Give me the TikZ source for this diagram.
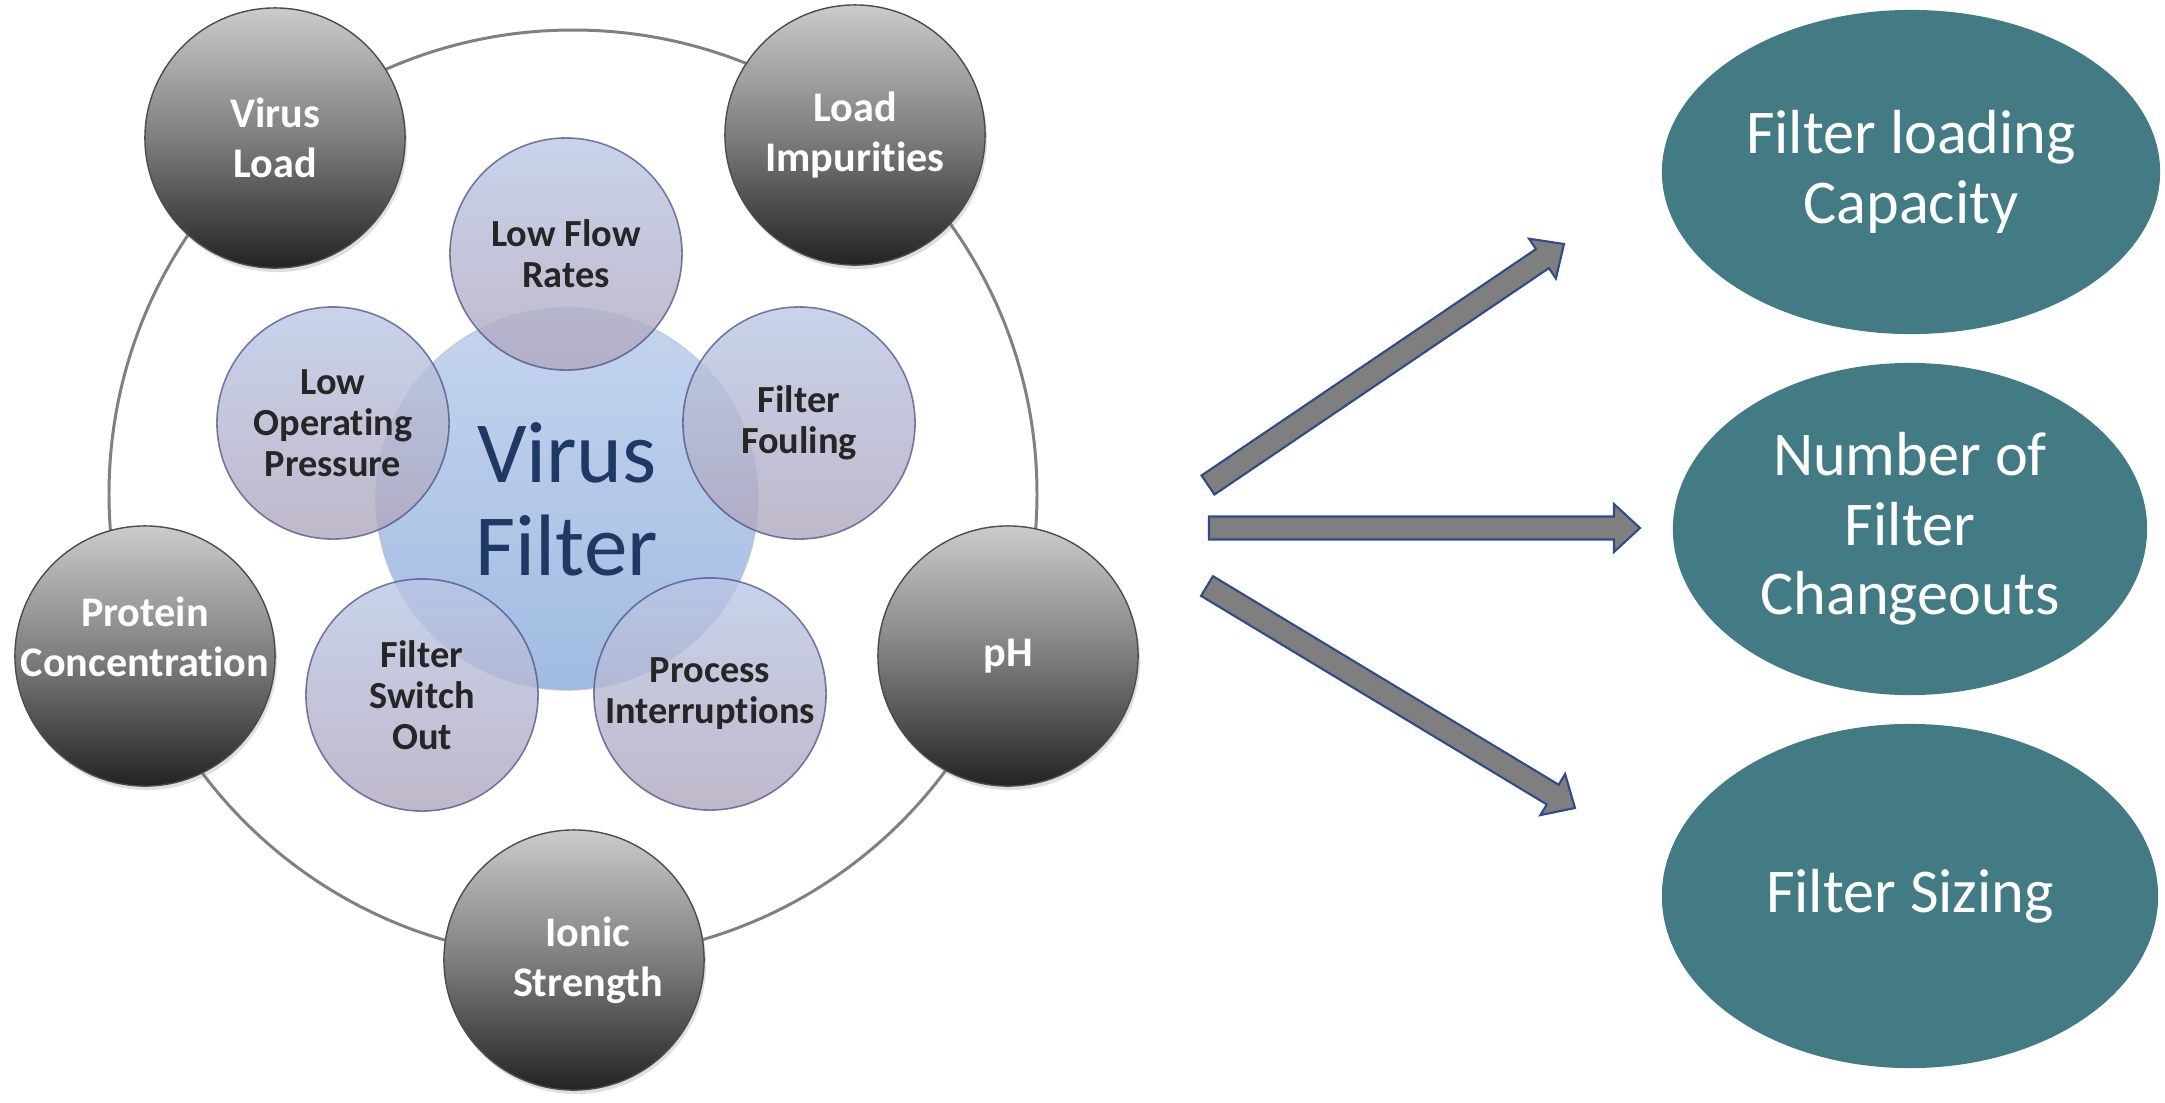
\documentclass[tikz,border=0pt]{standalone}
\usepackage{fontspec}
\setmainfont{Carlito}[Ligatures=NoCommon]
\usetikzlibrary{calc,shapes.geometric,shadows}
\definecolor{tealc}{HTML}{437B84}
\definecolor{navyc}{HTML}{1F3864}
\definecolor{ringc}{HTML}{808080}
\definecolor{arrfill}{HTML}{7F7F7F}
\definecolor{arrline}{HTML}{2F4B8A}
\definecolor{gtop}{HTML}{CBCBCB}
\definecolor{gmid}{HTML}{7E7E7E}
\definecolor{gbot}{HTML}{232323}
\definecolor{ctop}{HTML}{BDCFEB}
\definecolor{cbot}{HTML}{93B2DD}
\definecolor{stopc}{HTML}{BAC8E5}
\definecolor{sbotc}{HTML}{B0A6BD}
\definecolor{stext}{HTML}{262626}
\tikzset{
  graycirc/.style={circle, minimum size=2.6cm, inner sep=0pt,
    top color=gtop, bottom color=gbot, middle color=gmid,
    draw=gray!60!black, line width=0.4pt,
    drop shadow={opacity=0.25, shadow xshift=0.02cm, shadow yshift=-0.04cm}},
  graytext/.style={align=center, text=white, inner sep=0pt,
    font=\bfseries\fontsize{12}{14.2}\selectfont},
  centcirc/.style={circle, minimum size=3.82cm, inner sep=0pt,
    top color=ctop, bottom color=cbot, fill opacity=0.88,
    draw=gray!50, draw opacity=0.6, line width=0.4pt},
  centtext/.style={align=center, text=navyc, inner sep=0pt,
    font=\fontsize{24.8}{26.5}\selectfont},
  smallcirc/.style={circle, minimum size=2.32cm, inner sep=0pt,
    top color=stopc, bottom color=sbotc, fill opacity=0.8,
    draw=gray!70!blue!80!black, draw opacity=0.7, line width=0.45pt},
  smalltext/.style={align=center, text=stext, inner sep=0pt,
    font=\bfseries\fontsize{10.9}{11.7}\selectfont},
  tealell/.style={ellipse, fill=tealc, draw=none, inner sep=0pt},
  tealtext/.style={align=center, text=white, inner sep=0pt,
    font=\fontsize{17.7}{19.8}\selectfont},
  ringline/.style={draw=ringc, line width=0.85pt},
  blkarr/.style={fill=arrfill, draw=arrline, line width=0.6pt, line join=miter}
}
\newcommand{\blkarrow}[3]{%
  \coordinate (#3b) at ($(#2)!0.26cm!(#1)$);
  \draw[blkarr] ($(#1)!0.115cm!90:(#2)$) -- ($(#3b)!0.115cm!90:(#2)$)
    -- ($(#3b)!0.24cm!90:(#2)$) -- (#2) -- ($(#3b)!0.24cm!-90:(#2)$)
    -- ($(#3b)!0.115cm!-90:(#2)$) -- ($(#1)!0.115cm!-90:(#2)$) -- cycle;
}
\begin{document}
\begin{tikzpicture}[x=0.01cm, y=-0.01cm]
\useasboundingbox (0,0) rectangle (2165,1102);
% outer ring
\coordinate (ringc) at (573,494);
\draw[ringline] (ringc) circle[radius=464];
% gray factor circles
\node[graycirc] (vl) at (275,138) {};
\node[graytext] (vlt) at (vl) {Virus\\Load};
\node[graycirc] (li) at (855,135) {};
\node[graytext] (lit) at (li) {Load\\Impurities};
\node[graycirc] (ph) at (1008,656) {};
\node[graytext] (pht) at (ph) {pH};
\node[graycirc] (is) at (574,960) {};
\node[graytext] (ist) at ([xshift=0.14cm]is.center) {Ionic\\Strength};
\node[graycirc] (pc) at (145,656) {};
\node[graytext] (pct) at ([yshift=0.19cm]pc.center) {Protein\\Concentration};
% central circle
\node[centcirc] (vf) at (567,499) {};
% small circles
\node[smallcirc] (lf) at (566,254) {};
\node[smallcirc] (ff) at (799,423) {};
\node[smallcirc] (pi) at (710,694) {};
\node[smallcirc] (fs) at (422,695) {};
\node[smallcirc] (lo) at (333,423) {};
\node[centtext] (vft) at (vf) {Virus\\Filter};
\node[smalltext] (lft) at (lf) {Low Flow\\Rates};
\node[smalltext] (fft) at (ff) {Filter\\Fouling};
\node[smalltext] (pit) at (pi) {Process\\Interruptions};
\node[smalltext] (fst) at (fs) {Filter\\Switch\\Out};
\node[smalltext] (lot) at (lo) {Low\\Operating\\Pressure};
% outcome ellipses
\node[tealell, minimum width=4.98cm, minimum height=3.24cm] (e1) at (1911,172) {};
\node[tealtext] (e1t) at (e1) {Filter loading\\Capacity};
\node[tealell, minimum width=4.74cm, minimum height=3.32cm] (e2) at (1910,529) {};
\node[tealtext] (e2t) at (e2) {Number of\\Filter\\Changeouts};
\node[tealell, minimum width=4.96cm, minimum height=3.44cm] (e3) at (1910,896) {};
\node[tealtext] (e3t) at (e3) {Filter Sizing};
% block arrows
\coordinate (a1s) at (1208,485);
\coordinate (a1e) at (1564,244);
\coordinate (a2s) at (1209,528);
\coordinate (a2e) at (1640,528);
\coordinate (a3s) at (1207,586);
\coordinate (a3e) at (1575,808);
\blkarrow{a1s}{a1e}{a1}
\blkarrow{a2s}{a2e}{a2}
\blkarrow{a3s}{a3e}{a3}
\end{tikzpicture}
\end{document}
